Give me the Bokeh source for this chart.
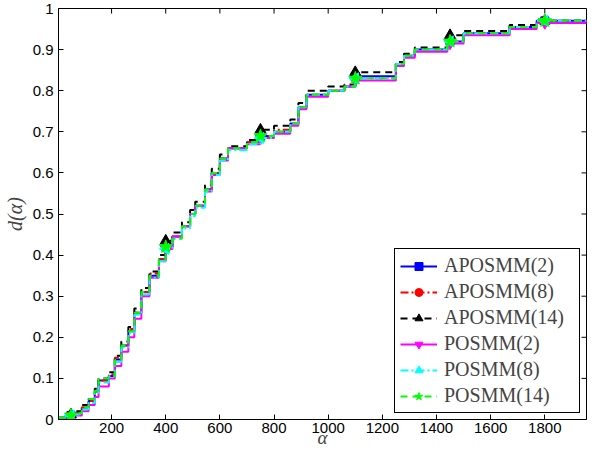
import numpy as np
from math import pi
from bokeh.plotting import figure
from bokeh.models import Legend, LegendItem, FixedTicker, Range1d
from bokeh.embed import file_html
from bokeh.resources import INLINE

# ---- data ----
x_break = [4, 30, 60, 90, 115, 138, 152, 190, 212, 236, 262, 284, 310, 340, 375,
           400, 425, 460, 490, 509, 545, 570, 600, 630, 700, 750, 800, 860, 890, 920,
           1000, 1060, 1100, 1250, 1280, 1320, 1440, 1500, 1670, 1770, 1954]

y_aposmm2 = [0.005, 0.01, 0.015, 0.028, 0.045, 0.068, 0.095, 0.106, 0.146, 0.18,
             0.215, 0.26, 0.31, 0.35, 0.39, 0.42, 0.445, 0.47, 0.5, 0.52,
             0.56, 0.6, 0.635, 0.66, 0.675, 0.69, 0.7, 0.72, 0.76, 0.79,
             0.8, 0.81, 0.835, 0.865, 0.885, 0.9, 0.92, 0.94, 0.955, 0.97, 0.97]
y_aposmm8 = [0.005, 0.01, 0.015, 0.03, 0.045, 0.07, 0.095, 0.11, 0.15, 0.18,
             0.22, 0.26, 0.31, 0.355, 0.39, 0.42, 0.445, 0.47, 0.5, 0.52,
             0.56, 0.6, 0.635, 0.66, 0.675, 0.69, 0.705, 0.72, 0.76, 0.79,
             0.8, 0.81, 0.83, 0.865, 0.885, 0.9, 0.92, 0.94, 0.955, 0.97, 0.97]
y_aposmm14 = [0.005, 0.012, 0.02, 0.035, 0.05, 0.075, 0.1, 0.115, 0.155, 0.19,
              0.225, 0.27, 0.32, 0.36, 0.4, 0.435, 0.455, 0.48, 0.51, 0.53,
              0.57, 0.61, 0.645, 0.665, 0.68, 0.705, 0.715, 0.73, 0.77, 0.8,
              0.81, 0.815, 0.845, 0.87, 0.89, 0.905, 0.935, 0.945, 0.96, 0.97, 0.97]
y_posmm2 = [0.005, 0.008, 0.01, 0.02, 0.035, 0.055, 0.08, 0.1, 0.13, 0.165,
            0.2, 0.245, 0.3, 0.345, 0.385, 0.415, 0.445, 0.47, 0.5, 0.52,
            0.555, 0.595, 0.63, 0.66, 0.67, 0.685, 0.695, 0.715, 0.755, 0.785,
            0.8, 0.81, 0.825, 0.86, 0.88, 0.895, 0.915, 0.935, 0.95, 0.965, 0.97]
y_posmm8 = [0.005, 0.01, 0.012, 0.025, 0.04, 0.065, 0.09, 0.105, 0.14, 0.175,
            0.21, 0.255, 0.305, 0.345, 0.385, 0.415, 0.44, 0.465, 0.495, 0.515,
            0.555, 0.595, 0.63, 0.655, 0.67, 0.685, 0.7, 0.72, 0.76, 0.79,
            0.8, 0.81, 0.83, 0.865, 0.885, 0.9, 0.92, 0.94, 0.955, 0.97, 0.97]
y_posmm14 = [0.005, 0.01, 0.015, 0.03, 0.05, 0.07, 0.1, 0.105, 0.145, 0.18,
             0.215, 0.26, 0.31, 0.35, 0.39, 0.42, 0.44, 0.47, 0.5, 0.52,
             0.56, 0.6, 0.635, 0.66, 0.675, 0.69, 0.7, 0.72, 0.76, 0.79,
             0.8, 0.81, 0.83, 0.865, 0.885, 0.9, 0.92, 0.94, 0.955, 0.97, 0.97]

marker_x = [50, 400, 750, 1100, 1450, 1800]

series_names = ["APOSMM(2)", "APOSMM(8)", "APOSMM(14)", "POSMM(2)", "POSMM(8)", "POSMM(14)"]
series_y = [y_aposmm2, y_aposmm8, y_aposmm14, y_posmm2, y_posmm8, y_posmm14]

x_ticks = [200, 400, 600, 800, 1000, 1200, 1400, 1600, 1800]
y_ticks = [0, 0.1, 0.2, 0.3, 0.4, 0.5, 0.6, 0.7, 0.8, 0.9, 1.0]
y_tick_labels = ["0", "0.1", "0.2", "0.3", "0.4", "0.5", "0.6", "0.7", "0.8", "0.9", "1"]

X_MIN, X_MAX = 4, 1954
Y_MIN, Y_MAX = 0, 1

# ---- styles ----
colors = ["#0000ff", "#ff0000", "#000000", "#ff00ff", "#00ffff", "#00ff00"]
dashes = ["solid", "8 3 2 3", "7 5", "solid", "8 3 2 3", "7 5"]
markers = ["square", "circle", "triangle", "inverted_triangle", "triangle", "star"]
angles = [0, 0, 0, 0, pi / 2, 0]
msizes = [8, 9, 11, 11, 11, 14]

W, H = 587, 450
BL, BR, BT, BB = 52, 1, 8, 20

p = figure(width=W, height=H, output_backend="svg", toolbar_location=None,
           x_range=Range1d(X_MIN, X_MAX), y_range=Range1d(Y_MIN, Y_MAX),
           min_border_left=BL, min_border_right=BR, min_border_top=BT, min_border_bottom=BB)
p.xgrid.visible = False
p.ygrid.visible = False
p.outline_line_color = "black"
p.outline_line_alpha = 1
p.outline_line_width = 1

xax = p.xaxis[0]
yax = p.yaxis[0]
xax.ticker = FixedTicker(ticks=x_ticks)
yax.ticker = FixedTicker(ticks=y_ticks)
yax.major_label_overrides = {t: l for t, l in zip(y_ticks, y_tick_labels)}

for ax in (xax, yax):
    ax.major_tick_in = 5
    ax.major_tick_out = 0
    ax.minor_tick_in = 0
    ax.minor_tick_out = 0
    ax.axis_line_color = "black"
    ax.major_tick_line_color = "black"
    ax.major_label_text_font = "Liberation Sans"
    ax.major_label_text_font_size = "15px"
    ax.major_label_text_color = "black"
xax.major_label_standoff = 3
yax.major_label_standoff = 5

yax.axis_label = "d(α)"
yax.axis_label_text_font = "Liberation Serif"
yax.axis_label_text_font_style = "italic"
yax.axis_label_text_font_size = "20px"
yax.axis_label_standoff = 4

xax.axis_label = "α"
xax.axis_label_text_font = "Liberation Serif"
xax.axis_label_text_font_style = "italic"
xax.axis_label_text_font_size = "19px"
xax.axis_label_standoff = -9

# inward ticks on the top and right sides (5 px long)
fw = W - BL - BR
fh = 407
tlx = 5 * (X_MAX - X_MIN) / fw
tly = 5 * (Y_MAX - Y_MIN) / fh
p.segment(x0=x_ticks, x1=x_ticks, y0=[Y_MAX] * len(x_ticks), y1=[Y_MAX - tly] * len(x_ticks),
          line_color="black", line_width=1)
p.segment(x0=[X_MAX] * len(y_ticks), x1=[X_MAX - tlx] * len(y_ticks), y0=y_ticks, y1=y_ticks,
          line_color="black", line_width=1)

xa = np.array(x_break)
items = []
for name, ys, c, d, m, a, s in zip(series_names, series_y, colors, dashes, markers, angles, msizes):
    ln = p.step(x_break, ys, mode="after", line_color=c, line_width=2, line_dash=d)
    ya = np.array(ys)
    idx = np.searchsorted(xa, np.array(marker_x), side="right") - 1
    sc = p.scatter(marker_x, ya[idx], marker=m, angle=a, size=s,
                   fill_color=c, line_color=c)
    items.append(LegendItem(label=name, renderers=[ln, sc]))

legend = Legend(items=items, location="bottom_right", margin=6, padding=5, spacing=3,
                label_height=20, glyph_height=20, glyph_width=37, label_standoff=7,
                label_width=130, label_text_font="Liberation Serif",
                label_text_font_size="20px", border_line_color="black",
                border_line_width=1, border_line_alpha=1, background_fill_alpha=1)
p.add_layout(legend)

open("out.html", "w").write(file_html(p, INLINE))
